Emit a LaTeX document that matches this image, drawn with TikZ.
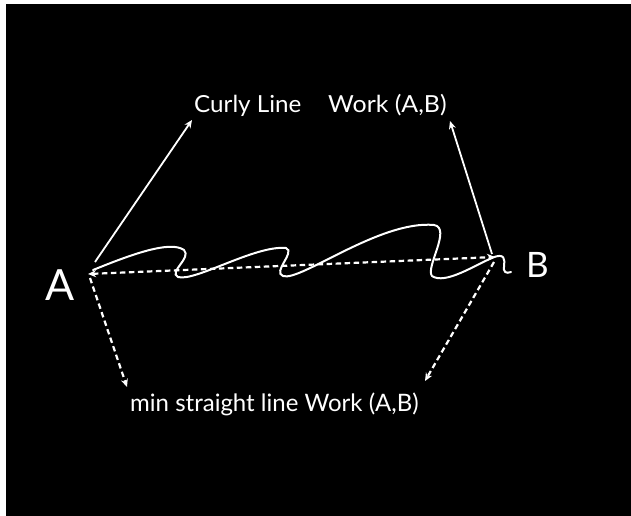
\documentclass[tikz,border=0pt]{standalone}
\usepackage{fontspec}
\newfontfamily\lab{Lato}
\usetikzlibrary{arrows.meta}
\begin{document}
\begin{tikzpicture}[x=1pt,y=-1pt,
  lbl/.style={text=white,inner sep=0pt,anchor=base west},
  solidarr/.style={white,line width=1.8pt,-{Stealth[length=8pt,width=7pt]}},
  dasharr/.style={white,line width=2.2pt,dash pattern=on 5.5pt off 3.5pt,-{Stealth[length=8pt,width=7pt]}},
  curly/.style={white,line width=2pt,line cap=round}]
\useasboundingbox (0,0) rectangle (631,516);
\fill[white] (0,0) rectangle (631,516);
\fill[black] (6,4) rectangle (631,516);
% labels
\node[lbl,font=\lab\fontsize{43}{43}\selectfont] (labA) at (45,300) {A};
\node[lbl,font=\lab\fontsize{35}{35}\selectfont] (labB) at (526,277) {B};
\node[lbl,font=\lab\fontsize{23.5}{24}\selectfont,xscale=1.03] (curlytxt) at (194,113) {Curly Line};
\node[lbl,font=\lab\fontsize{23.5}{24}\selectfont,xscale=1.06] (worktxt) at (328,113) {Work (A,B)};
\node[lbl,font=\lab\fontsize{24}{25}\selectfont] (mintxt) at (130,411) {min straight line Work (A,B)};
% points
\coordinate (A) at (88,274);
\coordinate (B) at (495,257);
\coordinate (As) at (95,262);
\coordinate (Bs) at (492,254);
\coordinate (Ad) at (90,278);
\coordinate (Bd) at (494,262);
\coordinate (Ct) at (192,120);
\coordinate (Wt) at (450,121);
\coordinate (Mt1) at (127,387);
\coordinate (Mt2) at (425,381);
% curly line
\draw[curly] (93,270) .. controls (130,255) and (170,240) .. (184,250)
  .. controls (192,258) and (168,272) .. (178,277)
  .. controls (195,282) and (255,245) .. (286,248)
  .. controls (296,252) and (272,272) .. (283,276)
  .. controls (300,282) and (380,220) .. (434,225)
  .. controls (452,228) and (425,268) .. (432,276)
  .. controls (445,285) and (475,265) .. (492,258)
  .. controls (505,252) and (505,260) .. (504,266)
  .. controls (503,272) and (506,274) .. (511,272);
% arrows
\draw[solidarr] (As) -- (Ct);
\draw[solidarr] (Bs) -- (Wt);
\draw[dasharr,{Stealth[length=8pt,width=7pt]}-{Stealth[length=8pt,width=7pt]}] (A) -- (B);
\draw[dasharr] (Ad) -- (Mt1);
\draw[dasharr] (Bd) -- (Mt2);
\end{tikzpicture}
\end{document}
